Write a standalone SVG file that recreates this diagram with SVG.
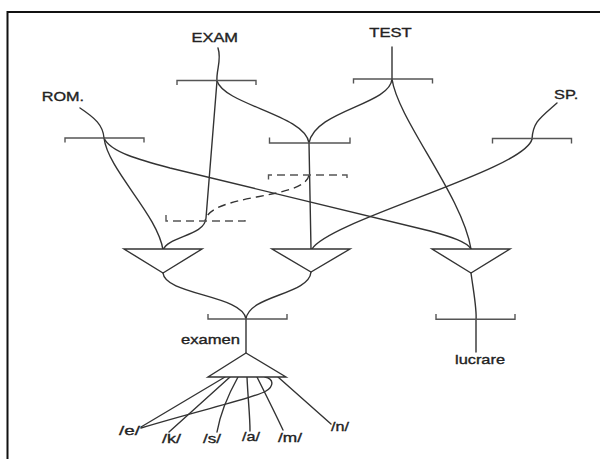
<svg xmlns="http://www.w3.org/2000/svg" width="600" height="459" viewBox="0 0 600 459">
  <style>
    .frame { fill: none; stroke: #111; stroke-width: 2; }
    .ln { fill: none; stroke: #333; stroke-width: 1.4; stroke-linecap: round; }
    .br { fill: none; stroke: #555; stroke-width: 1.4; }
    .dash { stroke-dasharray: 8 5; stroke-linecap: butt; }
    .tri { fill: #fff; stroke: #333; stroke-width: 1.4; stroke-linejoin: miter; }
    .lbl { font-family: "Liberation Sans", Arial, Helvetica, sans-serif; font-size: 13.5px; fill: #222; stroke: #222; stroke-width: 0.35; }
  </style>

  <rect width="600" height="459" fill="#fff"/>
  <path class="frame" d="M7.5,459 V12 H600"/>

  <!-- connectors -->
  <g id="connectors">
    <!-- stems from the concept labels into their brackets -->
    <path class="ln" d="M218,48 C222,60 216,70 217,81"/>
    <path class="ln" d="M392,47 V79"/>
    <path class="ln" d="M80,108 C95,118 103,125 104,138"/>
    <path class="ln" d="M557,103 C540,118 533,122 532,139"/>

    <!-- EXAM -->
    <path class="ln" d="M217,81 L206,218 C205,236 168,236 163,250"/>
    <path class="ln" d="M217,81 C225,105 305,115 309,143"/>
    <!-- TEST -->
    <path class="ln" d="M392,79 C390,105 315,110 309,143"/>
    <path class="ln" d="M392,79 C398,120 462,195 471,249"/>
    <!-- ROM. -->
    <path class="ln" d="M104,138 C108,170 158,215 163,250"/>
    <path class="ln" d="M104,138 C110,152 140,160 170,168 L430,231 C452,237 467,242 471,249"/>
    <!-- SP. -->
    <path class="ln" d="M532,139 C525,170 330,220 312,249"/>
    <!-- middle bracket down to middle triangle -->
    <path class="ln" d="M309,143 L311,249"/>
    <!-- dashed link between the dashed brackets -->
    <path class="ln dash" d="M309,175 C305,200 210,193 205,221"/>

    <!-- triangles down to examen / lucrare -->
    <path class="ln" d="M163,273 C165,295 243,295 246,319"/>
    <path class="ln" d="M311,272 C309,295 249,295 246,319"/>
    <path class="ln" d="M246,319 V353"/>
    <path class="ln" d="M471,273 C474,295 477,310 476,320 L476,352"/>

    <!-- phoneme links -->
    <path class="ln" d="M225,377 L141,427"/>
    <path class="ln" d="M141,428 C200,410 255,398 266,391 C274,386 274,379 265,377"/>
    <path class="ln" d="M230,377 L169,432"/>
    <path class="ln" d="M238,377 C228,395 220,415 217,432"/>
    <path class="ln" d="M247,377 C248,400 250,415 250,431"/>
    <path class="ln" d="M257,377 C266,395 276,415 283,430"/>
    <path class="ln" d="M278,377 L331,424"/>
  </g>

  <!-- concept nodes -->
  <g id="node-exam">
    <text class="lbl" x="191.5" y="42" textLength="46.5" lengthAdjust="spacingAndGlyphs">EXAM</text>
    <path class="br" d="M177,85 V80.5 H256 V85"/>
  </g>
  <g id="node-test">
    <text class="lbl" x="369.3" y="36.7" textLength="42.4" lengthAdjust="spacingAndGlyphs">TEST</text>
    <path class="br" d="M353.5,83.5 V79 H432.5 V83.5"/>
  </g>
  <g id="node-rom">
    <text class="lbl" x="41.7" y="101" textLength="42.3" lengthAdjust="spacingAndGlyphs">ROM.</text>
    <path class="br" d="M65,142.5 V138 H144 V142.5"/>
  </g>
  <g id="node-sp">
    <text class="lbl" x="554" y="98.5" textLength="24.3" lengthAdjust="spacingAndGlyphs">SP.</text>
    <path class="br" d="M492.5,143.5 V138.5 H571.5 V143.5"/>
  </g>
  <g id="node-mid">
    <path class="br" d="M269.5,137.5 V143 H350 V137.5"/>
  </g>
  <g id="node-dash-upper">
    <path class="br dash" d="M268.5,179.5 V175 H347 V179.5"/>
  </g>
  <g id="node-dash-lower">
    <path class="br dash" d="M166,215 V221 H245 V215"/>
  </g>

  <!-- triangles -->
  <g id="tri-left"><polygon class="tri" points="124,249 202,249 163,273"/></g>
  <g id="tri-mid"><polygon class="tri" points="272,249 350,249 311,272"/></g>
  <g id="tri-right"><polygon class="tri" points="432,249 510,249 471,273"/></g>

  <!-- word nodes -->
  <g id="node-examen">
    <path class="br" d="M208,314 V319 H287 V314"/>
    <text class="lbl" x="181" y="344" textLength="59" lengthAdjust="spacingAndGlyphs">examen</text>
    <polygon class="tri" points="246,353 286,377 208,377"/>
  </g>
  <g id="node-lucrare">
    <path class="br" d="M436,314 V319.3 H515 V314"/>
    <text class="lbl" x="455" y="364" textLength="50" lengthAdjust="spacingAndGlyphs">lucrare</text>
  </g>

  <!-- phonemes -->
  <g id="ph-e"><text class="lbl" x="119" y="435" textLength="21" lengthAdjust="spacingAndGlyphs">/e/</text></g>
  <g id="ph-k"><text class="lbl" x="162" y="443" textLength="19" lengthAdjust="spacingAndGlyphs">/k/</text></g>
  <g id="ph-s"><text class="lbl" x="203" y="443" textLength="18" lengthAdjust="spacingAndGlyphs">/s/</text></g>
  <g id="ph-a"><text class="lbl" x="242" y="441" textLength="18" lengthAdjust="spacingAndGlyphs">/a/</text></g>
  <g id="ph-m"><text class="lbl" x="278" y="442" textLength="24" lengthAdjust="spacingAndGlyphs">/m/</text></g>
  <g id="ph-n"><text class="lbl" x="331" y="431" textLength="18" lengthAdjust="spacingAndGlyphs">/n/</text></g>
</svg>
